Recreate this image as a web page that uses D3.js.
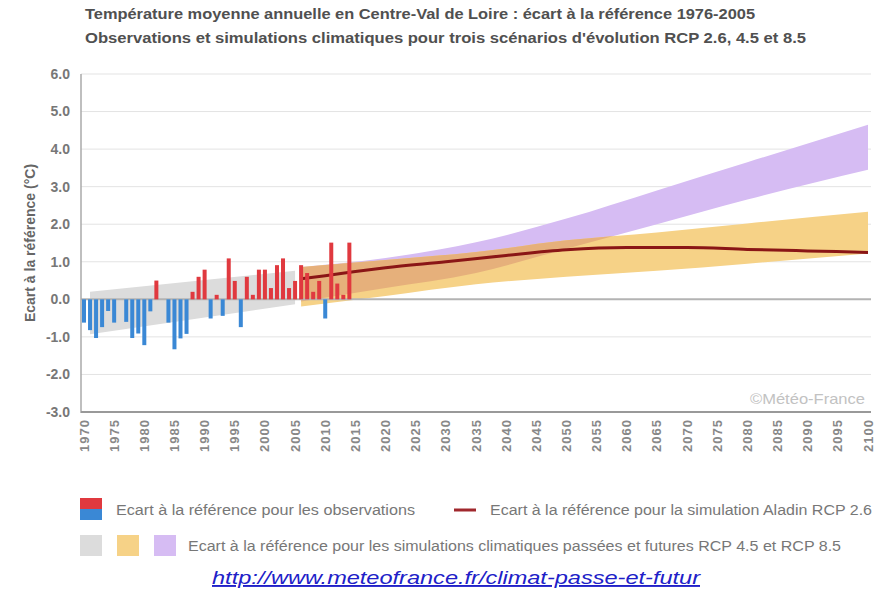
<!DOCTYPE html>
<html><head><meta charset="utf-8">
<script src="https://cdn.jsdelivr.net/npm/d3@7"></script>
<style>
html,body{margin:0;padding:0;background:#fff;}
svg{display:block;font-family:"Liberation Sans",Arial,sans-serif;}
</style></head>
<body><svg id="c" width="879" height="589"></svg>
<script>
// ---------- data ----------
const obsYears = [1970,1971,1972,1973,1974,1975,1976,1977,1978,1979,1980,1981,1982,1983,1984,1985,1986,1987,1988,1989,1990,1991,1992,1993,1994,1995,1996,1997,1998,1999,2000,2001,2002,2003,2004,2005,2006,2007,2008,2009,2010,2011,2012,2013,2014];
const obsValues = [-0.62,-0.82,-1.03,-0.74,-0.31,-0.62,0.0,-0.6,-1.03,-0.91,-1.22,-0.32,0.5,0.0,-0.62,-1.33,-1.04,-0.92,0.2,0.6,0.79,-0.51,0.12,-0.44,1.09,0.49,-0.74,0.6,0.12,0.79,0.79,0.3,0.91,1.09,0.3,0.49,0.91,0.7,0.2,0.49,-0.51,1.51,0.42,0.12,1.51];

const histYears = [1971, 2005];
const histTop = [0.2, 0.76];
const histBottom = [-0.93, -0.13];

const simYears = [2006, 2020, 2035, 2050, 2065, 2080, 2100];
const rcp45Top = [0.86, 1.05, 1.26, 1.57, 1.78, 2.02, 2.33];
const rcp45Bottom = [-0.19, 0.09, 0.4, 0.6, 0.76, 0.95, 1.22];
const rcp85Top = [0.86, 1.1, 1.52, 2.15, 2.9, 3.65, 4.65];
const rcp85Bottom = [-0.06, 0.3, 0.7, 1.35, 2.0, 2.66, 3.45];

const aladinYears = [2006, 2010, 2015, 2020, 2030, 2040, 2050, 2060, 2070, 2080, 2090, 2100];
const aladinValues = [0.55, 0.63, 0.74, 0.84, 1.0, 1.17, 1.32, 1.38, 1.38, 1.33, 1.29, 1.25];

const yTicks = [-3, -2, -1, 0, 1, 2, 3, 4, 5, 6];
const xTickLabels = ["1970","1975","1980","1985","1990","1995","2000","2005","2010","2015","2020","2025","2030","2035","2040","2045","2050","2055","2060","2065","2070","2075","2080","2085","2090","2095","2100"];

const title1 = "Température moyenne annuelle en Centre-Val de Loire : écart à la référence 1976-2005";
const title2 = "Observations et simulations climatiques pour trois scénarios d'évolution RCP 2.6, 4.5 et 8.5";
const yTitle = "Ecart à la référence (°C)";
const legObs = "Ecart à la référence pour les observations";
const legAladin = "Ecart à la référence pour la simulation Aladin RCP 2.6";
const legSim = "Ecart à la référence pour les simulations climatiques passées et futures RCP 4.5 et RCP 8.5";
const credit = "©Météo-France";
const url = "http://www.meteofrance.fr/climat-passe-et-futur";

// ---------- setup ----------
const svg = d3.select("#c");
const x = d3.scaleLinear().domain([1970, 2100]).range([84, 868]);
const y = d3.scaleLinear().domain([-3, 6]).range([412, 74]);
const plotL = 81, plotR = 871;

// titles
svg.append("text").attr("x", 85).attr("y", 19).attr("font-size", 14).attr("font-weight", "bold")
  .attr("fill", "#505050").attr("textLength", 670).attr("lengthAdjust", "spacingAndGlyphs").text(title1);
svg.append("text").attr("x", 85).attr("y", 43).attr("font-size", 14).attr("font-weight", "bold")
  .attr("fill", "#505050").attr("textLength", 721).attr("lengthAdjust", "spacingAndGlyphs").text(title2);

// gridlines
svg.append("g").selectAll("line").data(yTicks.filter(d => d !== -3 && d !== 0)).join("line")
  .attr("x1", plotL).attr("x2", plotR).attr("y1", d => y(d)).attr("y2", d => y(d))
  .attr("stroke", "#e3e3e3").attr("stroke-width", 1);

// bands
const area = (topArr, botArr, xs, curve) => d3.area().curve(curve)
  .x((d, i) => x(xs[i])).y0((d, i) => y(botArr[i])).y1((d, i) => y(topArr[i]))(xs);
svg.append("path").attr("d", area(histTop, histBottom, histYears, d3.curveLinear)).attr("fill", "#dcdcdc");

const p85 = area(rcp85Top, rcp85Bottom, simYears, d3.curveMonotoneX);
const p45 = area(rcp45Top, rcp45Bottom, simYears, d3.curveMonotoneX);
svg.append("defs").append("clipPath").attr("id", "clip85").append("path").attr("d", p85);
svg.append("path").attr("d", p85).attr("fill", "#d6bcf3");
svg.append("path").attr("d", p45).attr("fill", "#f6d287");
svg.append("path").attr("d", p45).attr("fill", "#e6b07b").attr("clip-path", "url(#clip85)");

// Aladin line
svg.append("path").attr("d", d3.line().x((d, i) => x(aladinYears[i])).y(d => y(d)).curve(d3.curveMonotoneX)(aladinValues))
  .attr("fill", "none").attr("stroke", "#8a1616").attr("stroke-width", 3);

// zero line
svg.append("line").attr("x1", plotL).attr("x2", plotR).attr("y1", y(0)).attr("y2", y(0))
  .attr("stroke", "#b3b3b3").attr("stroke-width", 2);

// bars
svg.append("g").selectAll("rect").data(obsValues).join("rect")
  .attr("x", (d, i) => x(obsYears[i]) - 2).attr("width", 4)
  .attr("y", d => y(Math.max(0, d))).attr("height", d => Math.abs(y(d) - y(0)))
  .attr("fill", d => d >= 0 ? "#e0393f" : "#3a88d5");

// axes lines
svg.append("line").attr("x1", plotL).attr("x2", plotL).attr("y1", 74).attr("y2", 413)
  .attr("stroke", "#aaa").attr("stroke-width", 1.5);
svg.append("line").attr("x1", plotL).attr("x2", plotR).attr("y1", y(-3)).attr("y2", y(-3))
  .attr("stroke", "#999").attr("stroke-width", 2);

// y tick labels
svg.append("g").selectAll("text").data(yTicks).join("text")
  .attr("x", 70).attr("y", d => y(d)).attr("dy", "0.35em").attr("text-anchor", "end")
  .attr("font-size", 14).attr("font-weight", "bold").attr("fill", "#777")
  .text(d => d.toFixed(1));

// x tick labels
svg.append("g").selectAll("text").data(xTickLabels).join("text")
  .attr("transform", d => `translate(${x(+d)},419) rotate(-90)`)
  .attr("text-anchor", "end").attr("dy", "0.35em")
  .attr("font-size", 13).attr("font-weight", "bold").attr("fill", "#888").attr("letter-spacing", 1)
  .text(d => d);

// y title
svg.append("text").attr("transform", "translate(30,243) rotate(-90)").attr("text-anchor", "middle")
  .attr("dy", "0.35em").attr("font-size", 14).attr("font-weight", "bold").attr("fill", "#666").text(yTitle);

// credit
svg.append("text").attr("x", 750).attr("y", 404).attr("font-size", 15)
  .attr("fill", "#c2c2c2").attr("textLength", 115).attr("lengthAdjust", "spacingAndGlyphs").text(credit);

// legend row 1
svg.append("rect").attr("x", 80).attr("y", 498).attr("width", 22).attr("height", 11).attr("fill", "#e0393f");
svg.append("rect").attr("x", 80).attr("y", 509).attr("width", 22).attr("height", 11).attr("fill", "#3a88d5");
svg.append("text").attr("x", 116).attr("y", 515).attr("font-size", 14).attr("fill", "#777")
  .attr("textLength", 299).attr("lengthAdjust", "spacingAndGlyphs").text(legObs);
svg.append("line").attr("x1", 454).attr("x2", 476).attr("y1", 510).attr("y2", 510)
  .attr("stroke", "#a0282d").attr("stroke-width", 3);
svg.append("text").attr("x", 490).attr("y", 515).attr("font-size", 14).attr("fill", "#777")
  .attr("textLength", 382).attr("lengthAdjust", "spacingAndGlyphs").text(legAladin);

// legend row 2
const swCols = ["#dcdcdc", "#f6d287", "#d6bcf3"];
const swX = [80, 117, 154];
swCols.forEach((c, i) => svg.append("rect").attr("x", swX[i]).attr("y", 535).attr("width", 22).attr("height", 21).attr("fill", c));
svg.append("text").attr("x", 188).attr("y", 551).attr("font-size", 14).attr("fill", "#777")
  .attr("textLength", 653).attr("lengthAdjust", "spacingAndGlyphs").text(legSim);

// url
svg.append("text").attr("x", 212).attr("y", 584).attr("font-size", 19).attr("font-style", "italic")
  .attr("fill", "#2020c8").attr("text-decoration", "underline")
  .attr("textLength", 488).attr("lengthAdjust", "spacingAndGlyphs").text(url);
</script></body></html>
